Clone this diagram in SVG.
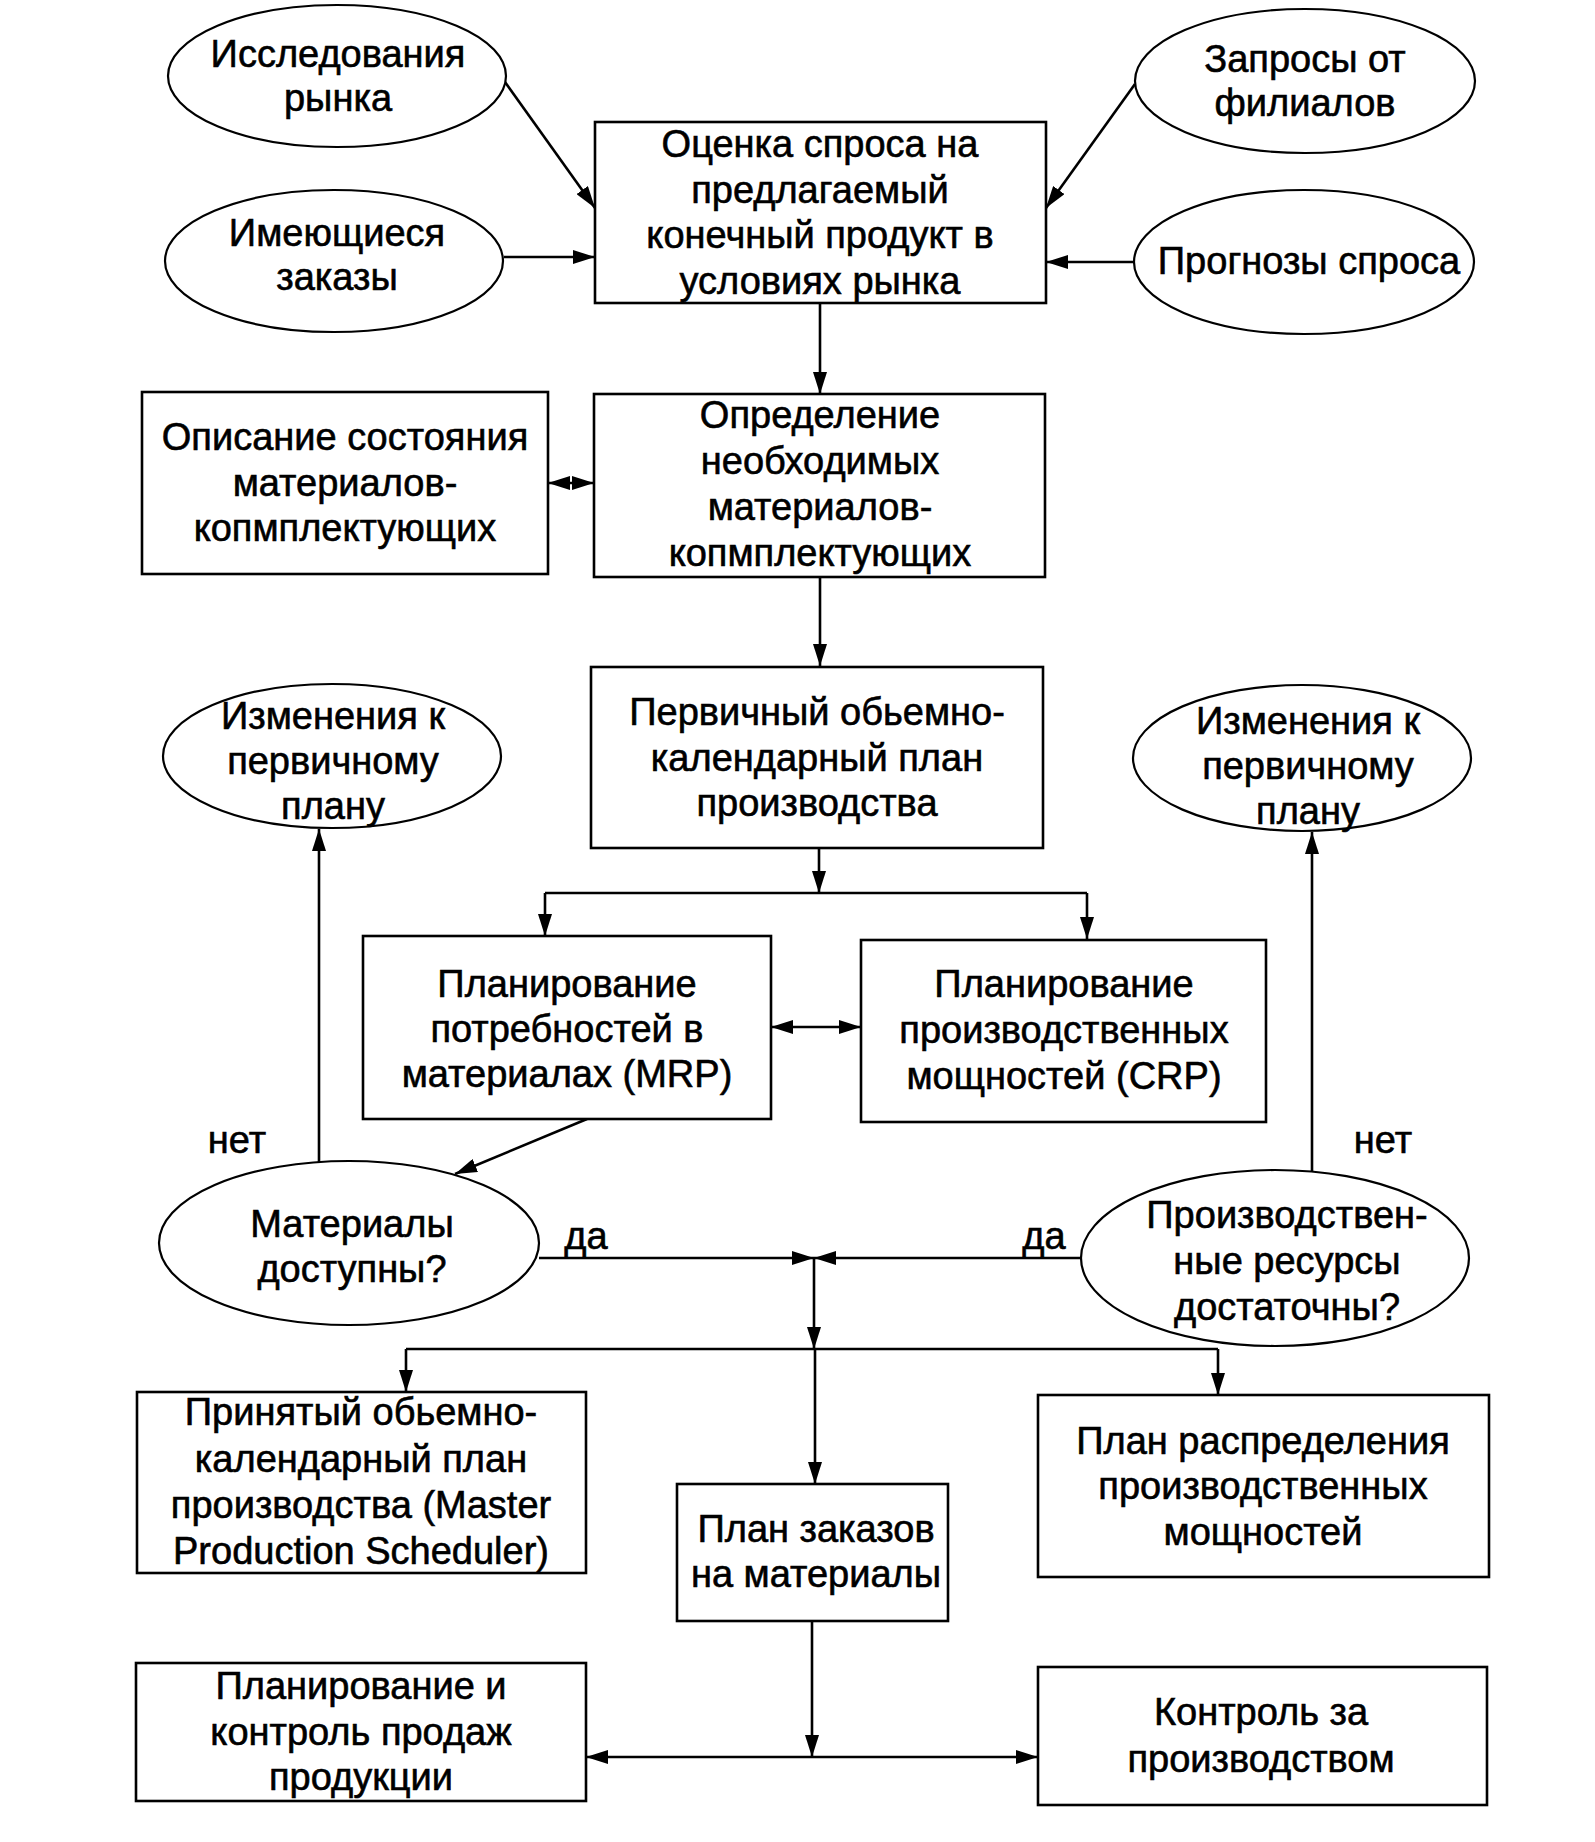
<svg xmlns="http://www.w3.org/2000/svg" width="1595" height="1842" viewBox="0 0 1595 1842">
<style>
.n{fill:#fff;stroke:#000;stroke-width:2.6}
.e{fill:#fff;stroke:#000;stroke-width:2.2}
.t{font-family:"Liberation Sans",Arial,sans-serif;font-size:38px;fill:#000;stroke:#000;stroke-width:0.6;text-anchor:middle}
.c{fill:none;stroke:#000;stroke-width:2.6}
.a{marker-end:url(#ah)}
.b{marker-start:url(#ah);marker-end:url(#ah)}
</style>
<defs>
<marker id="ah" viewBox="0 0 22 14" refX="22" refY="7" markerWidth="22" markerHeight="14" markerUnits="userSpaceOnUse" orient="auto-start-reverse">
<path d="M0,0 L22,7 L0,14 z" fill="#000"/>
</marker>
</defs>
<rect width="1595" height="1842" fill="#fff"/>
<g id="connectors">
<path class="c a" d="M505,82 L595,208"/>
<path class="c a" d="M504,257 L595,257"/>
<path class="c a" d="M1135,84 L1046,208"/>
<path class="c a" d="M1134,262 L1046,262"/>
<path class="c a" d="M820,303 L820,394"/>
<path class="c b" d="M548,483 L594,483"/>
<path class="c a" d="M820,577 L820,666"/>
<path class="c a" d="M819,848 L819,893"/>
<path class="c" d="M545,893 L1087,893"/>
<path class="c a" d="M545,893 L545,936"/>
<path class="c a" d="M1087,893 L1087,939"/>
<path class="c b" d="M771,1027 L861,1027"/>
<path class="c a" d="M587,1119 L455,1174"/>
<path class="c a" d="M319,1162 L319,829"/>
<path class="c a" d="M1312,1171 L1312,832"/>
<path class="c a" d="M539,1258 L814,1258"/>
<path class="c a" d="M1082,1258 L814,1258"/>
<path class="c a" d="M814,1258 L814,1349"/>
<path class="c" d="M406,1349 L1218,1349"/>
<path class="c a" d="M406,1349 L406,1392"/>
<path class="c a" d="M1218,1349 L1218,1395"/>
<path class="c a" d="M815,1349 L815,1484"/>
<path class="c a" d="M812,1621 L812,1757"/>
<path class="c b" d="M586,1757 L1038,1757"/>
</g>
<g id="market_research">
<ellipse class="e" cx="337" cy="76" rx="169" ry="71"/>
<text class="t" x="338" y="67">Исследования</text>
<text class="t" x="338" y="111">рынка</text>
</g>
<g id="existing_orders">
<ellipse class="e" cx="334" cy="261" rx="169" ry="71"/>
<text class="t" x="337" y="246">Имеющиеся</text>
<text class="t" x="337" y="290">заказы</text>
</g>
<g id="branch_requests">
<ellipse class="e" cx="1305" cy="81" rx="170" ry="72"/>
<text class="t" x="1305" y="72">Запросы от</text>
<text class="t" x="1305" y="116">филиалов</text>
</g>
<g id="demand_forecast">
<ellipse class="e" cx="1304" cy="262" rx="170" ry="72"/>
<text class="t" x="1309" y="274">Прогнозы спроса</text>
</g>
<g id="demand_eval">
<rect class="n" x="595" y="122" width="451" height="181"/>
<text class="t" x="820" y="157">Оценка спроса на</text>
<text class="t" x="820" y="203">предлагаемый</text>
<text class="t" x="820" y="248">конечный продукт в</text>
<text class="t" x="820" y="294">условиях рынка</text>
</g>
<g id="materials_state">
<rect class="n" x="142" y="392" width="406" height="182"/>
<text class="t" x="345" y="450">Описание состояния</text>
<text class="t" x="345" y="496">материалов-</text>
<text class="t" x="345" y="541">копмплектующих</text>
</g>
<g id="materials_needs">
<rect class="n" x="594" y="394" width="451" height="183"/>
<text class="t" x="820" y="428">Определение</text>
<text class="t" x="820" y="474">необходимых</text>
<text class="t" x="820" y="520">материалов-</text>
<text class="t" x="820" y="566">копмплектующих</text>
</g>
<g id="primary_plan">
<rect class="n" x="591" y="667" width="452" height="181"/>
<text class="t" x="817" y="725">Первичный обьемно-</text>
<text class="t" x="817" y="771">календарный план</text>
<text class="t" x="817" y="816">производства</text>
</g>
<g id="changes_left">
<ellipse class="e" cx="332" cy="756" rx="169" ry="72"/>
<text class="t" x="333" y="729">Изменения к</text>
<text class="t" x="333" y="774">первичному</text>
<text class="t" x="333" y="819">плану</text>
</g>
<g id="changes_right">
<ellipse class="e" cx="1302" cy="758" rx="169" ry="73"/>
<text class="t" x="1308" y="734">Изменения к</text>
<text class="t" x="1308" y="779">первичному</text>
<text class="t" x="1308" y="824">плану</text>
</g>
<g id="mrp">
<rect class="n" x="363" y="936" width="408" height="183"/>
<text class="t" x="567" y="997">Планирование</text>
<text class="t" x="567" y="1042">потребностей в</text>
<text class="t" x="567" y="1087">материалах (MRP)</text>
</g>
<g id="crp">
<rect class="n" x="861" y="940" width="405" height="182"/>
<text class="t" x="1064" y="997">Планирование</text>
<text class="t" x="1064" y="1043">производственных</text>
<text class="t" x="1064" y="1089">мощностей (CRP)</text>
</g>
<g id="materials_available">
<ellipse class="e" cx="349" cy="1243" rx="190" ry="82"/>
<text class="t" x="352" y="1237">Материалы</text>
<text class="t" x="352" y="1282">доступны?</text>
</g>
<g id="resources_sufficient">
<ellipse class="e" cx="1275" cy="1258" rx="194" ry="88"/>
<text class="t" x="1287" y="1228">Производствен-</text>
<text class="t" x="1287" y="1274">ные ресурсы</text>
<text class="t" x="1287" y="1320">достаточны?</text>
</g>
<g id="labels">
<text class="t" x="237" y="1153">нет</text>
<text class="t" x="1383" y="1153">нет</text>
<text class="t" x="586" y="1249">да</text>
<text class="t" x="1044" y="1249">да</text>
</g>
<g id="mps">
<rect class="n" x="137" y="1392" width="449" height="181"/>
<text class="t" x="361" y="1425">Принятый обьемно-</text>
<text class="t" x="361" y="1472">календарный план</text>
<text class="t" x="361" y="1518">производства (Master</text>
<text class="t" x="361" y="1564">Production Scheduler)</text>
</g>
<g id="material_orders">
<rect class="n" x="677" y="1484" width="271" height="137"/>
<text class="t" x="816" y="1542">План заказов</text>
<text class="t" x="816" y="1587">на материалы</text>
</g>
<g id="capacity_plan">
<rect class="n" x="1038" y="1395" width="451" height="182"/>
<text class="t" x="1263" y="1454">План распределения</text>
<text class="t" x="1263" y="1499">производственных</text>
<text class="t" x="1263" y="1545">мощностей</text>
</g>
<g id="sales_planning">
<rect class="n" x="136" y="1663" width="450" height="138"/>
<text class="t" x="361" y="1699">Планирование и</text>
<text class="t" x="361" y="1745">контроль продаж</text>
<text class="t" x="361" y="1790">продукции</text>
</g>
<g id="production_control">
<rect class="n" x="1038" y="1667" width="449" height="138"/>
<text class="t" x="1261" y="1725">Контроль за</text>
<text class="t" x="1261" y="1772">производством</text>
</g>
</svg>
